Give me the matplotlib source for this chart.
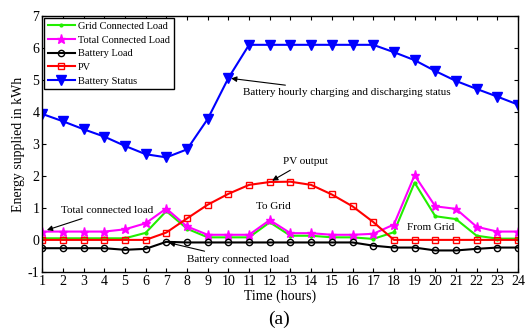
import numpy as np
import matplotlib.pyplot as plt

plt.rcParams['font.family'] = ['Liberation Serif', 'DejaVu Serif']
plt.rcParams['axes.unicode_minus'] = False

hours = list(range(1, 25))

grid_load = [0.05, 0.05, 0.05, 0.05, 0.05, 0.22, 0.9, 0.35, 0.08, 0.08, 0.08, 0.55,
             0.13, 0.13, 0.08, 0.08, 0.03, 0.24, 1.79, 0.74, 0.65, 0.13, 0.04, 0.04]
total_load = [0.26, 0.26, 0.26, 0.26, 0.33, 0.52, 0.98, 0.42, 0.16, 0.16, 0.16, 0.62,
              0.21, 0.21, 0.16, 0.16, 0.19, 0.48, 2.02, 1.05, 0.97, 0.41, 0.26, 0.26]
battery_load = [-0.26, -0.26, -0.26, -0.26, -0.31, -0.28, -0.06, -0.08, -0.08, -0.08, -0.08, -0.08,
                -0.08, -0.08, -0.08, -0.08, -0.18, -0.24, -0.24, -0.33, -0.33, -0.28, -0.24, -0.24]
pv = [0, 0, 0, 0, 0, 0, 0.23, 0.67, 1.1, 1.44, 1.72, 1.81,
      1.82, 1.72, 1.42, 1.05, 0.56, 0, 0, 0, 0, 0, 0, 0]
battery_status = [3.94, 3.71, 3.46, 3.23, 2.94, 2.68, 2.58, 2.83, 3.78, 5.06, 6.1, 6.1,
                  6.1, 6.1, 6.1, 6.1, 6.1, 5.87, 5.62, 5.28, 4.97, 4.72, 4.48, 4.23]

fig = plt.figure(figsize=(5.27, 3.34), dpi=100)
ax = fig.add_axes([0.080, 0.186, 0.903, 0.766])

ax.plot(hours, grid_load, color='#22ee00', lw=1.5, marker='.', ms=4, label='Grid Connected Load')
ax.plot(hours, total_load, color='magenta', lw=1.5, marker='*', ms=6.5, label='Total Connected Load')
ax.plot(hours, battery_load, color='black', lw=1.5, marker='o', ms=4.5, mfc='none', label='Battery Load')
ax.plot(hours, pv, color='red', lw=1.5, marker='s', ms=4.5, mfc='none', label='PV')
ax.plot(hours, battery_status, color='blue', lw=1.5, marker='v', ms=6.5, label='Battery Status')

ax.set_xlim(1, 24)
ax.set_ylim(-1, 7)
ax.set_xticks(hours)
ax.set_yticks(range(-1, 8))
ax.tick_params(direction='in', top=True, right=True, labelsize=10, length=3, pad=2)
for s in ax.spines.values():
    s.set_linewidth(1.0)

ax.set_xlabel('Time (hours)', fontsize=10, labelpad=1)
ax.set_ylabel('Energy supplied in kWh', fontsize=10, labelpad=2)

leg = ax.legend(loc='upper left', fontsize=7.5, handlelength=2.6, borderpad=0.35,
                labelspacing=0.42, handletextpad=0.3, fancybox=False, framealpha=1,
                borderaxespad=0.2)
leg.get_frame().set_edgecolor('black')
leg.get_frame().set_linewidth(1.0)

arrow = dict(arrowstyle='-|>', color='black', lw=0.8, mutation_scale=8)
ax.annotate('Battery hourly charging and discharging status', xy=(10, 5.06), xytext=(10.7, 4.6),
            fontsize=8, va='center', ha='left', arrowprops=arrow)
ax.annotate('PV output', xy=(12, 1.81), xytext=(12.64, 2.45),
            fontsize=8, va='center', ha='left', arrowprops=arrow)
ax.annotate('Total connected load', xy=(1.1, 0.28), xytext=(1.9, 0.92),
            fontsize=8, va='center', ha='left', arrowprops=arrow)
ax.annotate('Battery connected load', xy=(7, -0.07), xytext=(8.0, -0.6),
            fontsize=8, va='center', ha='left', arrowprops=arrow)
ax.text(12.16, 1.04, 'To Grid', fontsize=8, ha='center', va='center')
ax.text(19.77, 0.4, 'From Grid', fontsize=8, ha='center', va='center')

fig.text(0.53, 0.045, '(a)', fontsize=14, ha='center', va='center')

fig.savefig('out.png', dpi=100)
